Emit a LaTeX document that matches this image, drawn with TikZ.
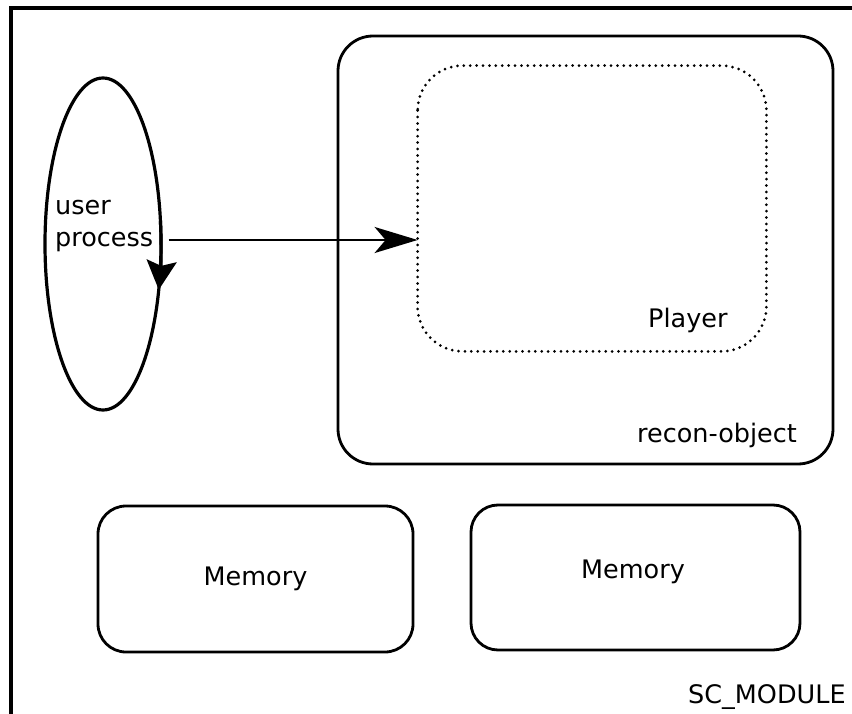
\documentclass[tikz,border=0pt]{standalone}
\usepackage{fontspec}
\setmainfont{DejaVu Sans}
\usetikzlibrary{arrows.meta,positioning,shapes.geometric}

\begin{document}
\begin{tikzpicture}[x=1pt,y=-1pt]
\tikzset{
  boxnode/.style={rectangle,draw=black,line width=2.8pt,inner sep=0pt},
  procnode/.style={ellipse,draw=black,line width=3.2pt,inner sep=0pt,minimum width=116pt,minimum height=332pt},
  textlabel/.style={inner sep=0pt,font=\fontsize{25.5}{32}\selectfont},
  dotline/.style={line width=3pt,line cap=round,dash pattern=on 0pt off 6.4pt},
  flowarrow/.style={draw=black,line width=2.4pt,-{Stealth[length=43pt,width=26pt,inset=11pt]}},
  looparrow/.style={draw=black,line width=3.2pt,-{Stealth[length=29pt,width=30pt,inset=5pt]}}
}
\clip (0,0) rectangle (852,714);
% module frame
\draw[line width=3.2pt] (11,760) -- (11,8) -- (900,8);
\node[textlabel,anchor=base west] (l_module) at (688,703) {SC\_MODULE};
% user process
\node[procnode] (n_user) at (103,244) {};
\node[textlabel,anchor=base west,align=left] (l_user) at (55,247) {user\\process};
\draw[looparrow] (n_user.center) ++(-8:58 and 166) arc[start angle=-8,end angle=16,x radius=58,y radius=166];
% recon-object and player
\node[boxnode,rounded corners=35pt,minimum width=495pt,minimum height=428pt] (n_recon) at (585.5,250) {};
\node[textlabel,anchor=base west] (l_recon) at (637,442) {recon-object};
\node[boxnode,draw=none,rounded corners=45pt,minimum width=346pt,minimum height=283pt] (n_player) at (592,208.5) {};
\draw[dotline,rounded corners=45pt] (n_player.north west) rectangle (n_player.south east);
\node[textlabel,anchor=base west] (l_player) at (648,327) {Player};
\draw[flowarrow] ([shift={(6pt,4pt)}]n_user.east) coordinate (c_start) -- (c_start -| n_player.west);
% memories
\node[boxnode,rounded corners=28pt,minimum width=315pt,minimum height=146pt,font=\fontsize{25.5}{32}\selectfont] (n_mem1) at (255.5,579) {Memory};
\node[boxnode,rounded corners=27pt,minimum width=329pt,minimum height=145pt] (n_mem2) at (635.5,577.5) {};
\node[textlabel] (l_mem2) at (633,572) {Memory};
\end{tikzpicture}
\end{document}
